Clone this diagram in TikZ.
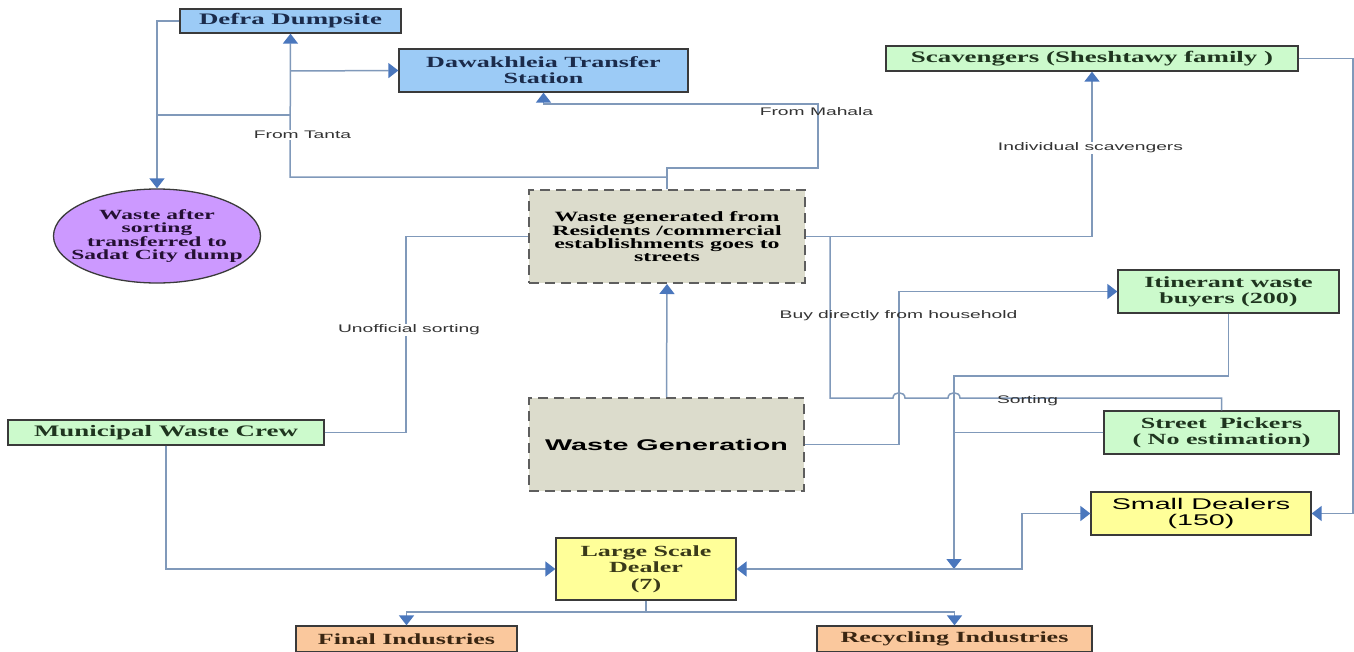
\documentclass[tikz,border=0pt]{standalone}
\usepackage{fontspec}
\setmainfont{Liberation Serif}
\newfontfamily\bserif[FakeStretch=1.68]{Liberation Serif}
\newfontfamily\bsans[FakeStretch=1.85]{Liberation Sans}
\newfontfamily\lsans[FakeStretch=1.75]{Liberation Sans}
\usetikzlibrary{arrows.meta,shapes.geometric}
\definecolor{lineC}{HTML}{8099BA}
\definecolor{arrC}{HTML}{4A77BD}
\definecolor{blueF}{HTML}{9CCBF6}
\definecolor{greenF}{HTML}{CCFACC}
\definecolor{purpF}{HTML}{CC99FF}
\definecolor{grayF}{HTML}{DCDCCC}
\definecolor{yelF}{HTML}{FFFF99}
\definecolor{orF}{HTML}{FAC89D}
\definecolor{bordC}{HTML}{3A3A3A}
\definecolor{dashC}{HTML}{5E5E5E}
\definecolor{navyT}{HTML}{1B2B4B}
\definecolor{greenT}{HTML}{1F351F}
\definecolor{purpT}{HTML}{241033}
\definecolor{yelT}{HTML}{3A3A1A}
\definecolor{orT}{HTML}{3A2612}
\definecolor{lblC}{HTML}{333333}
\tikzset{
  x=1pt, y=-1pt,
  box/.style={draw=bordC, line width=1.3pt, inner sep=0pt, align=center,
    font=\bserif\bfseries\fontsize{15.5}{16}\selectfont},
  bluebox/.style={box, fill=blueF, text=navyT},
  greenbox/.style={box, fill=greenF, text=greenT},
  yelbox/.style={box, fill=yelF, text=yelT},
  orbox/.style={box, fill=orF, text=orT},
  dashbox/.style={draw=dashC, line width=2pt, dash pattern=on 10pt off 6pt,
    fill=grayF, inner sep=0pt, align=center, text=black},
  conn/.style={draw=lineC, line width=1.5pt},
  arrowend/.style={-{Triangle[length=10pt,width=15pt,color=arrC]}},
  bothends/.style={{Triangle[length=10pt,width=15pt,color=arrC]}-{Triangle[length=10pt,width=15pt,color=arrC]}},
  lbl/.style={inner sep=1pt, text=lblC, font=\lsans\fontsize{11}{12}\selectfont},
  lblw/.style={lbl, fill=white}
}
\begin{document}
\begin{tikzpicture}
\useasboundingbox[fill=white] (0,0) rectangle (1354,651);

% ---- nodes
\node[bluebox, minimum width=221pt, minimum height=24pt, font=\bserif\bfseries\fontsize{16}{17}\selectfont] (defra) at (290.5,21) {Defra Dumpsite};
\node[bluebox, minimum width=289pt, minimum height=43pt] (daw) at (543.5,70.5) {Dawakhleia Transfer\\Station};
\node[draw=bordC, line width=1.3pt, ellipse, fill=purpF, text=purpT,
  inner xsep=-13pt, inner ysep=0pt,
  minimum width=207pt, minimum height=94pt, align=center,
  font=\bserif\bfseries\fontsize{14}{13.3}\selectfont] (sadat) at (157,236)
  {Waste after\\sorting\\transferred to\\Sadat City dump};
\node[greenbox, minimum width=412pt, minimum height=25pt, font=\bserif\bfseries\fontsize{16}{17}\selectfont] (scav) at (1092,58.5) {Scavengers (Sheshtawy family )};
\node[dashbox, minimum width=276pt, minimum height=93pt,
  font=\bserif\bfseries\fontsize{14.2}{12.8}\selectfont] (wgr) at (667,236.5)
  {Waste generated from\\Residents /commercial\\establishments goes to\\streets};
\node[greenbox, minimum width=221pt, minimum height=43pt] (itin) at (1228.5,291.5) {Itinerant waste\\buyers (200)};
\node[greenbox, minimum width=316pt, minimum height=25pt, font=\bserif\bfseries\fontsize{16}{17}\selectfont] (mwc) at (166,432.5) {Municipal Waste Crew};
\node[dashbox, minimum width=275pt, minimum height=93pt,
  font=\bsans\bfseries\fontsize{15.5}{16}\selectfont] (wgen) at (666.5,444.5) {Waste Generation};
\node[greenbox, minimum width=235pt, minimum height=43pt] (street) at (1221.5,432.5) {Street\ \ Pickers\\( No estimation)};
\node[box, fill=yelF, text=black, minimum width=220pt, minimum height=43pt,
  font=\bsans\fontsize{15.5}{16}\selectfont] (small) at (1201,513.5) {Small Dealers\\(150)};
\node[yelbox, minimum width=180pt, minimum height=62pt, font=\bserif\bfseries\fontsize{15.5}{16.5}\selectfont] (lsd) at (646,569) {Large Scale\\Dealer\\(7)};
\node[orbox, minimum width=221pt, minimum height=26pt] (final) at (406.5,639) {Final Industries};
\node[orbox, minimum width=275pt, minimum height=26pt] (recyc) at (954.5,639) {Recycling Industries};

% ---- bend coordinates
\coordinate (jT) at (290,177);
\coordinate (jD) at (290,71);
\coordinate (jS) at (290,115);
\coordinate (kM1) at (818,168);
\coordinate (kM2) at (543.5,104);
\coordinate (s1) at (830,236.5);
\coordinate (s2) at (830,398);
\coordinate (b1) at (899,350);
\coordinate (u1) at (406,330);
\coordinate (t1) at (954,376);
\coordinate (t2) at (954,569);
\coordinate (d1) at (1022,540);
\coordinate (r1) at (1353,300);
\coordinate (l1) at (646,612);

% ---- connectors
\draw[conn, arrowend] (wgr.north) |- (jT) -- (defra.south);
\draw[conn, arrowend] (jD) -- (daw.west);
\draw[conn] (jS) -- (sadat.north |- jS);
\draw[conn, arrowend] (defra.west) -| (sadat.north);
\draw[conn, arrowend] (wgr.north) |- (kM1) |- (kM2) -- (daw.south);
\draw[conn, arrowend] (wgr.east) -| (scav.south);
\draw[conn] (s1) -- (s2) -- (893,398) .. controls (893,391) and (905,391) .. (905,398)
  -- (948,398) .. controls (948,391) and (960,391) .. (960,398) -| (street.north);
\draw[conn, arrowend] (wgen.east) -| (b1) |- (itin.west);
\draw[conn, arrowend] (wgen.north) -- (wgr.south);
\draw[conn] (mwc.east) -| (u1) |- (wgr.west);
\draw[conn, arrowend] (mwc.south) |- (lsd.west);
\draw[conn, arrowend] (itin.south) |- (t1) -- (t2);
\draw[conn] (street.west) -- (t1 |- street.west);
\draw[conn, bothends] (lsd.east) -| (d1) |- (small.west);
\draw[conn, arrowend] (scav.east) -| (r1) |- (small.east);
\draw[conn, arrowend] (lsd.south) -- (l1) -| (final.north);
\draw[conn, arrowend] (l1) -| (recyc.north);

% ---- labels
\node[lblw] (lT) at (302.5,135) {From Tanta};
\node[lbl] (lM) at (816.5,112) {From Mahala};
\node[lblw] (lI) at (1090.5,148) {Individual scavengers};
\node[lblw] (lU) at (409,330) {Unofficial sorting};
\node[lbl] (lB) at (898.5,316) {Buy directly from household};
\node[lbl] (lS) at (1027.5,401) {Sorting};
\end{tikzpicture}
\end{document}
